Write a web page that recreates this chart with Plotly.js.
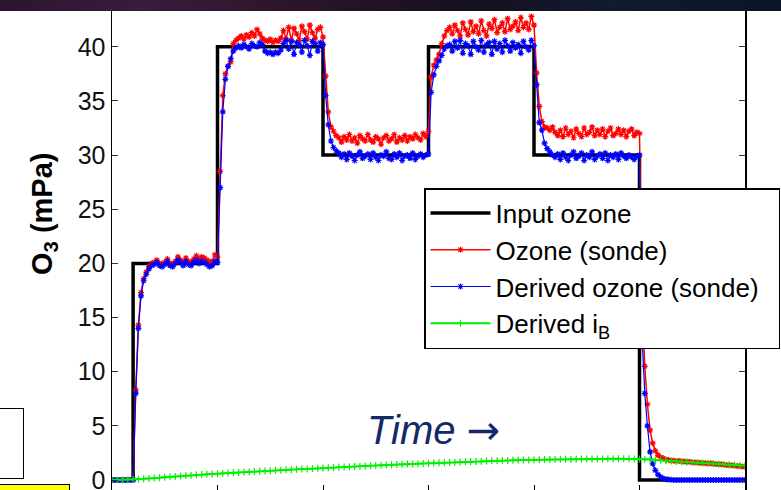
<!DOCTYPE html>
<html>
<head>
<meta charset="utf-8">
<script src="https://cdn.plot.ly/plotly-3.0.1.min.js"></script>
<style>
  html, body { margin:0; padding:0; background:#ffffff; }
  #wrap { position:relative; width:781px; height:490px; overflow:hidden; }
  #chart { position:absolute; left:0; top:0; width:781px; height:500px; }
  #banner { position:absolute; left:0; top:0; width:781px; height:11px; z-index:5;
    background: linear-gradient(to right, #2b1530 0%, #3a1c3c 18%, #2a1428 40%, #15101f 60%, #121a30 78%, #0c1428 100%); }
  #box1 { position:absolute; left:-2px; top:408px; width:24px; height:69px; border:1.5px solid #000; background:#fff; z-index:5; }
  #box2 { position:absolute; left:-2px; top:484px; width:70px; height:12px; border:1.5px solid #000; background:#ffff00; z-index:5; }
</style>
</head>
<body>
<div id="wrap">
  <div id="chart"></div>
  <div id="banner"></div>
  <div id="box1"></div>
  <div id="box2"></div>
</div>
<script>
// ---- data (sample index; 40 samples per x tick) ----
const inputX = [0, 8, 40, 80, 120, 160, 200, 240];
const inputY = [0, 20, 40, 30, 40, 30, 0, 0];

const ozoneSonde = [
  0,0,0,0,0,0,0,0,0,
  8.3,14.3,17.3,18.6,19.2,19.7,20.0,
  20.1,20.3,20.0,19.9,20.1,20.4,20.0,19.9,20.2,20.6,20.3,20.1,20.5,20.2,20.1,20.4,20.7,20.4,20.6,20.5,20.3,20.1,20.2,20.8,20.6,
  28.5,35.5,37.5,38.2,38.6,40.3,40.6,
  40.8,41.0,40.7,41.1,40.9,41.3,41.0,41.6,41.2,40.8,
  40.6,40.5,40.7,40.4,40.6,40.5,40.8,
  41.5,40.7,41.8,40.6,41.7,41.2,40.6,41.9,41.4,40.7,42.0,41.3,40.8,41.6,41.8,40.9,
  37.3,34.0,32.6,32.2,31.8,31.6,
  31.2,31.7,31.4,31.9,31.3,31.6,31.1,31.8,31.5,31.3,31.9,31.4,31.2,31.7,31.5,31.0,31.6,31.8,31.3,31.5,31.9,31.2,31.6,31.4,31.8,31.3,31.7,31.5,31.9,31.6,31.4,32.0,31.7,32.2,
  37.2,38.3,38.8,39.3,40.3,41.0,41.5,
  41.8,41.2,42.0,41.5,41.0,42.2,41.6,41.1,42.3,41.4,41.9,41.2,42.4,41.5,41.0,42.1,41.7,42.5,41.3,41.8,42.2,41.4,42.6,41.6,41.9,42.3,41.5,42.7,41.8,42.2,41.6,42.8,42.0,
  37.6,34.5,33.1,32.6,32.5,32.3,32.6,32.1,
  31.8,32.3,31.7,32.5,31.9,32.2,31.6,32.4,32.0,31.7,32.5,31.9,32.1,32.6,31.8,32.3,31.9,32.4,31.7,32.2,32.5,31.8,32.0,32.4,31.9,32.3,31.7,32.2,32.4,31.8,32.1,32.0,
  16.0,10.5,7.0,4.6,3.4,2.7,2.3,2.1,2.0,1.9,1.85,1.8,
  1.78,1.75,1.77,1.72,1.70,1.68,1.69,1.64,1.62,1.63,1.58,1.57,1.55,1.53,1.54,1.49,1.47,1.45,1.46,1.41,1.39,1.37,1.36,1.32,1.30,1.28,1.25,1.23
];

const derivedOzone = [
  0,0,0,0,0,0,0,0,0,
  8.0,14.0,17.0,18.4,19.0,19.5,19.8,
  19.9,20.1,19.8,19.7,19.9,20.2,19.8,19.7,20.0,20.3,20.1,19.8,20.2,19.9,19.8,20.1,20.3,20.0,20.2,20.1,19.9,19.7,19.8,20.2,20.1,
  27.0,34.0,37.0,38.2,38.9,39.6,39.9,
  40.1,39.9,40.2,40.0,39.8,40.3,40.1,40.0,40.4,40.2,
  39.6,39.4,39.5,39.3,39.5,39.4,39.7,
  40.3,40.6,39.8,40.5,39.3,40.4,40.2,39.5,40.6,40.1,39.2,40.5,40.3,39.6,40.4,40.2,
  35.5,32.8,31.3,30.7,30.4,30.2,
  29.8,30.1,29.6,30.2,29.9,29.5,30.0,30.3,29.7,29.9,30.1,29.6,30.2,29.8,29.5,30.0,29.9,30.3,29.7,29.6,30.1,29.8,30.2,29.5,29.9,30.0,29.7,30.2,29.6,29.9,30.1,29.8,30.0,30.1,
  35.8,37.4,38.2,38.7,39.2,39.8,40.1,
  40.2,39.6,40.5,39.9,40.6,39.4,40.3,40.1,39.3,40.5,40.0,39.7,40.6,39.5,40.2,40.4,39.3,40.5,39.8,40.3,39.5,40.6,40.1,39.6,40.4,39.9,40.2,39.4,40.5,40.0,39.7,40.6,40.1,
  36.5,33.0,32.3,31.1,30.6,30.3,30.0,29.8,
  30.1,29.6,30.2,29.8,29.5,30.0,30.3,29.7,29.9,30.2,29.5,30.0,29.8,30.3,29.6,29.9,30.1,29.7,30.2,29.5,30.0,29.8,30.1,29.6,30.2,29.9,29.7,30.0,29.8,29.6,29.9,30.0,
  13.0,8.0,5.0,2.6,1.5,0.9,0.5,0.3,0.15,0.08,0.04,0.02,
  0,0,0,0,0,0,0,0,0,0,0,0,0,0,0,0,0,0,0,0,0,0,0,0,0,0,0,0
];

// derived iB, one value every 2 samples
const derivedIB = [
  0.00,0.01,0.02,0.03,0.04,
  0.08,0.11,0.15,0.19,0.22,0.26,0.30,0.33,0.37,0.41,0.44,0.48,
  0.51,0.54,0.56,0.59,0.62,0.64,0.67,0.70,0.72,0.75,0.78,0.80,0.83,0.86,0.88,0.91,0.94,0.96,0.99,
  1.01,1.03,1.06,1.08,1.11,1.13,1.15,1.18,1.20,1.22,1.25,1.27,1.29,1.32,1.34,1.37,1.39,1.41,1.44,
  1.46,1.48,1.49,1.51,1.53,1.55,1.57,1.59,1.60,1.62,1.64,1.66,1.68,1.70,1.71,1.73,1.75,1.77,1.79,
  1.80,1.81,1.83,1.84,1.85,1.86,1.87,1.88,1.89,1.90,1.91,1.91,1.92,1.93,1.93,1.94,1.94,1.95,1.95,
  1.95,1.96,1.96,1.96,1.96,1.96,1.95,1.95,
  1.93,1.90,1.86,1.82,1.78,1.75,1.72,1.69,1.66,1.63,1.60,1.57,1.54,1.51,1.48,1.44,1.41,1.38,1.35,1.32
];

const legendNames = ['Input ozone', 'Ozone (sonde)', 'Derived ozone (sonde)&nbsp;&nbsp;', 'Derived i<sub>B</sub>'];
const yTicks = [0, 5, 10, 15, 20, 25, 30, 35, 40];
const xTicks = [0, 40, 80, 120, 160, 200, 240];

// ---- layout helpers (pixel -> paper) ----
const W = 781, H = 500, L = 112, R = 36, T = 0, B = 10;
const PW = W - L - R, PH = H - T - B;
const px = v => (v - L) / PW;
const py = v => 1 - (v - T) / PH;

const FONT = 'Liberation Sans, Arial, sans-serif';

const traces = [
  { name: legendNames[0], x: inputX, y: inputY, mode: 'lines', line: { shape: 'hv', color: '#000000', width: 3.5 } },
  { name: legendNames[1], y: ozoneSonde, mode: 'lines+markers', line: { color: '#ff0000', width: 1.5 },
    marker: { symbol: 'asterisk-open', size: 5, color: '#ff0000', line: { color: '#ff0000', width: 1.2 } } },
  { name: legendNames[2], y: derivedOzone, mode: 'lines+markers', line: { color: '#0000ff', width: 1.2 },
    marker: { symbol: 'asterisk-open', size: 5, color: '#0000ff', line: { color: '#0000ff', width: 1.2 } } },
  { name: legendNames[3], y: derivedIB, x0: 0, dx: 2, mode: 'lines+markers', line: { color: '#00ee00', width: 2 },
    marker: { symbol: 'cross-thin-open', size: 5, color: '#00ee00', line: { color: '#00ee00', width: 1.2 } } }
];

const layout = {
  width: W, height: H,
  margin: { l: L, r: R, t: T, b: B, pad: 0, autoexpand: false },
  paper_bgcolor: '#ffffff', plot_bgcolor: '#ffffff',
  font: { family: FONT, color: '#000000' },
  showlegend: true,
  legend: {
    x: px(424), y: py(188), xanchor: 'left', yanchor: 'top',
    bgcolor: '#ffffff', bordercolor: '#000000', borderwidth: 1.5,
    font: { family: FONT, size: 26, color: '#000000' },
    itemwidth: 60, tracegroupgap: 0
  },
  xaxis: {
    range: [0, 240], tickvals: xTicks, showticklabels: false,
    ticks: 'inside', ticklen: 5, tickwidth: 1, tickcolor: '#000000',
    showline: true, linecolor: '#000000', linewidth: 1.5, mirror: 'ticks',
    showgrid: false, zeroline: false, automargin: false
  },
  yaxis: {
    range: [-0.92, 44.32], tickvals: yTicks, ticktext: yTicks.map(String),
    ticks: 'inside', ticklen: 6, tickwidth: 1, tickcolor: '#333333',
    showline: true, linecolor: '#000000', linewidth: 1.5, mirror: 'ticks',
    showgrid: false, zeroline: false, automargin: false,
    tickfont: { family: FONT, size: 25, color: '#111111' }
  },
  annotations: [
    { text: '<b>O<sub>3</sub> (mPa)</b>', textangle: -90, xref: 'paper', yref: 'paper',
      x: px(44), y: py(214), xanchor: 'center', yanchor: 'middle', showarrow: false,
      font: { family: FONT, size: 29, color: '#000000' } },
    { text: '<i>Time</i> <span style="font-family:DejaVu Sans">→</span>', xref: 'paper', yref: 'paper',
      x: px(365), y: py(430), xanchor: 'left', yanchor: 'middle', showarrow: false,
      font: { family: FONT, size: 40, color: '#13296b' } }
  ]
};

Plotly.newPlot('chart', traces, layout, { staticPlot: true, displayModeBar: false });
</script>
</body>
</html>
